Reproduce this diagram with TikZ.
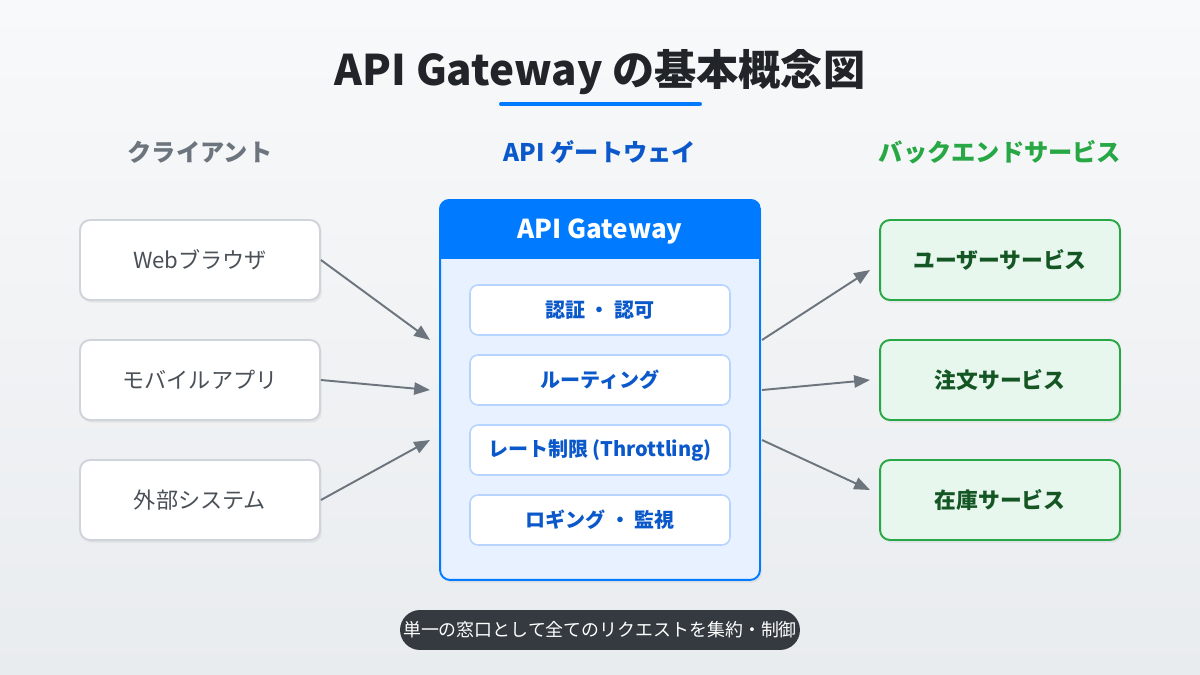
\documentclass[tikz,border=0pt]{standalone}
\usepackage{fontspec}
\setmainfont{Noto Sans CJK JP}
\usetikzlibrary{arrows.meta,shadows}

\definecolor{bgtop}{HTML}{F8F9FA}
\definecolor{bgbot}{HTML}{E9ECEF}
\definecolor{titlegray}{HTML}{212529}
\definecolor{gwblue}{HTML}{007BFF}
\definecolor{gwdark}{HTML}{0A58CA}
\definecolor{gwbody}{HTML}{E7F1FF}
\definecolor{gwline}{HTML}{B6D4FE}
\definecolor{clline}{HTML}{CED4DA}
\definecolor{cltext}{HTML}{495057}
\definecolor{midgray}{HTML}{6C757D}
\definecolor{svgreen}{HTML}{28A745}
\definecolor{svfill}{HTML}{E8F7EE}
\definecolor{svtext}{HTML}{155724}
\definecolor{pillgray}{HTML}{343A40}

\begin{document}
\begin{tikzpicture}[x=0.02cm, y=-0.02cm]
    % Node styles
    \tikzset{
      box shadow/.style={drop shadow={opacity=0.12, shadow xshift=1pt, shadow yshift=-1.5pt}},
      client box/.style={rectangle, rounded corners=0.2cm, draw=clline, line width=1.1pt, fill=white,
        box shadow, minimum width=4.8cm, minimum height=1.6cm,
        font=\fontsize{12.6}{14}\selectfont, text=cltext},
      service box/.style={rectangle, rounded corners=0.2cm, draw=svgreen, line width=1.1pt, fill=svfill,
        box shadow, minimum width=4.8cm, minimum height=1.6cm,
        font=\fontsize{12.4}{14}\selectfont\bfseries, text=svtext},
      func box/.style={rectangle, rounded corners=0.16cm, draw=gwline, line width=0.9pt, fill=white,
        minimum width=5.2cm, minimum height=1cm,
        font=\fontsize{11.4}{13}\selectfont\bfseries, text=gwdark},
      col head/.style={font=\fontsize{13.8}{16}\selectfont\bfseries},
      flow/.style={draw=midgray, line width=1.1pt, -{Triangle[length=9pt, width=7pt]}}
    }

    % Background
    \shade[top color=bgtop, bottom color=bgbot] (0,0) rectangle (1200,675);
    \useasboundingbox (0,0) rectangle (1200,675);

    % Title
    \node[font=\fontsize{24}{28}\selectfont\bfseries, text=titlegray] (title) at (600,72) {API Gateway の基本概念図};
    \draw[gwblue, line width=2.3pt, line cap=round] (501,104) -- (700,104);

    % Column headings
    \node[col head, text=midgray] (hclient) at (200,152) {クライアント};
    \node[col head, text=gwdark] (hgw) at (600,152) {API ゲートウェイ};
    \node[col head, text=svgreen] (hsvc) at (1000,152) {バックエンドサービス};

    % Clients
    \node[client box] (web) at (200,260) {Webブラウザ};
    \node[client box] (mobile) at (200,380) {モバイルアプリ};
    \node[client box] (ext) at (200,500) {外部システム};

    % Gateway body and header
    \node[rectangle, rounded corners=0.2cm, draw=gwblue, line width=1.1pt, fill=gwbody,
      box shadow, minimum width=6.4cm, minimum height=7.6cm] (gw) at (600,390) {};
    \begin{scope}
      \clip[rounded corners=0.2cm] (gw.north west) rectangle (gw.south east);
      \fill[gwblue] (gw.north west) rectangle ([yshift=-1.2cm]gw.north east);
    \end{scope}
    \node[font=\fontsize{14.8}{17}\selectfont\bfseries, text=white] (gwtitle) at (600,231) {API Gateway};

    % Gateway functions
    \node[func box] (auth) at (600,310) {認証 ・ 認可};
    \node[func box] (route) at (600,380) {ルーティング};
    \node[func box] (rate) at (600,450) {レート制限 (Throttling)};
    \node[func box] (log) at (600,520) {ロギング ・ 監視};

    % Services
    \node[service box] (user) at (1000,260) {ユーザーサービス};
    \node[service box] (order) at (1000,380) {注文サービス};
    \node[service box] (stock) at (1000,500) {在庫サービス};

    % Arrow end points beside the gateway
    \coordinate (in1) at (430,340);
    \coordinate (in2) at (430,390);
    \coordinate (in3) at (430,440);
    \coordinate (out1) at (762,340);
    \coordinate (out2) at (762,390);
    \coordinate (out3) at (762,440);
    \coordinate (to1) at (870,270);
    \coordinate (to2) at (870,380);
    \coordinate (to3) at (870,490);

    % Client -> gateway
    \draw[flow] (web.east) -- (in1);
    \draw[flow] (mobile.east) -- (in2);
    \draw[flow] (ext.east) -- (in3);

    % Gateway -> services
    \draw[flow] (out1) -- (to1);
    \draw[flow] (out2) -- (to2);
    \draw[flow] (out3) -- (to3);

    % Note
    \node[rectangle, rounded corners=0.4cm, fill=pillgray, minimum width=8cm, minimum height=0.8cm,
      inner xsep=1pt, font=\fontsize{10.2}{12}\selectfont, text=white] (note) at (600,630)
      {単一の窓口として全てのリクエストを集約・制御};
\end{tikzpicture}
\end{document}
